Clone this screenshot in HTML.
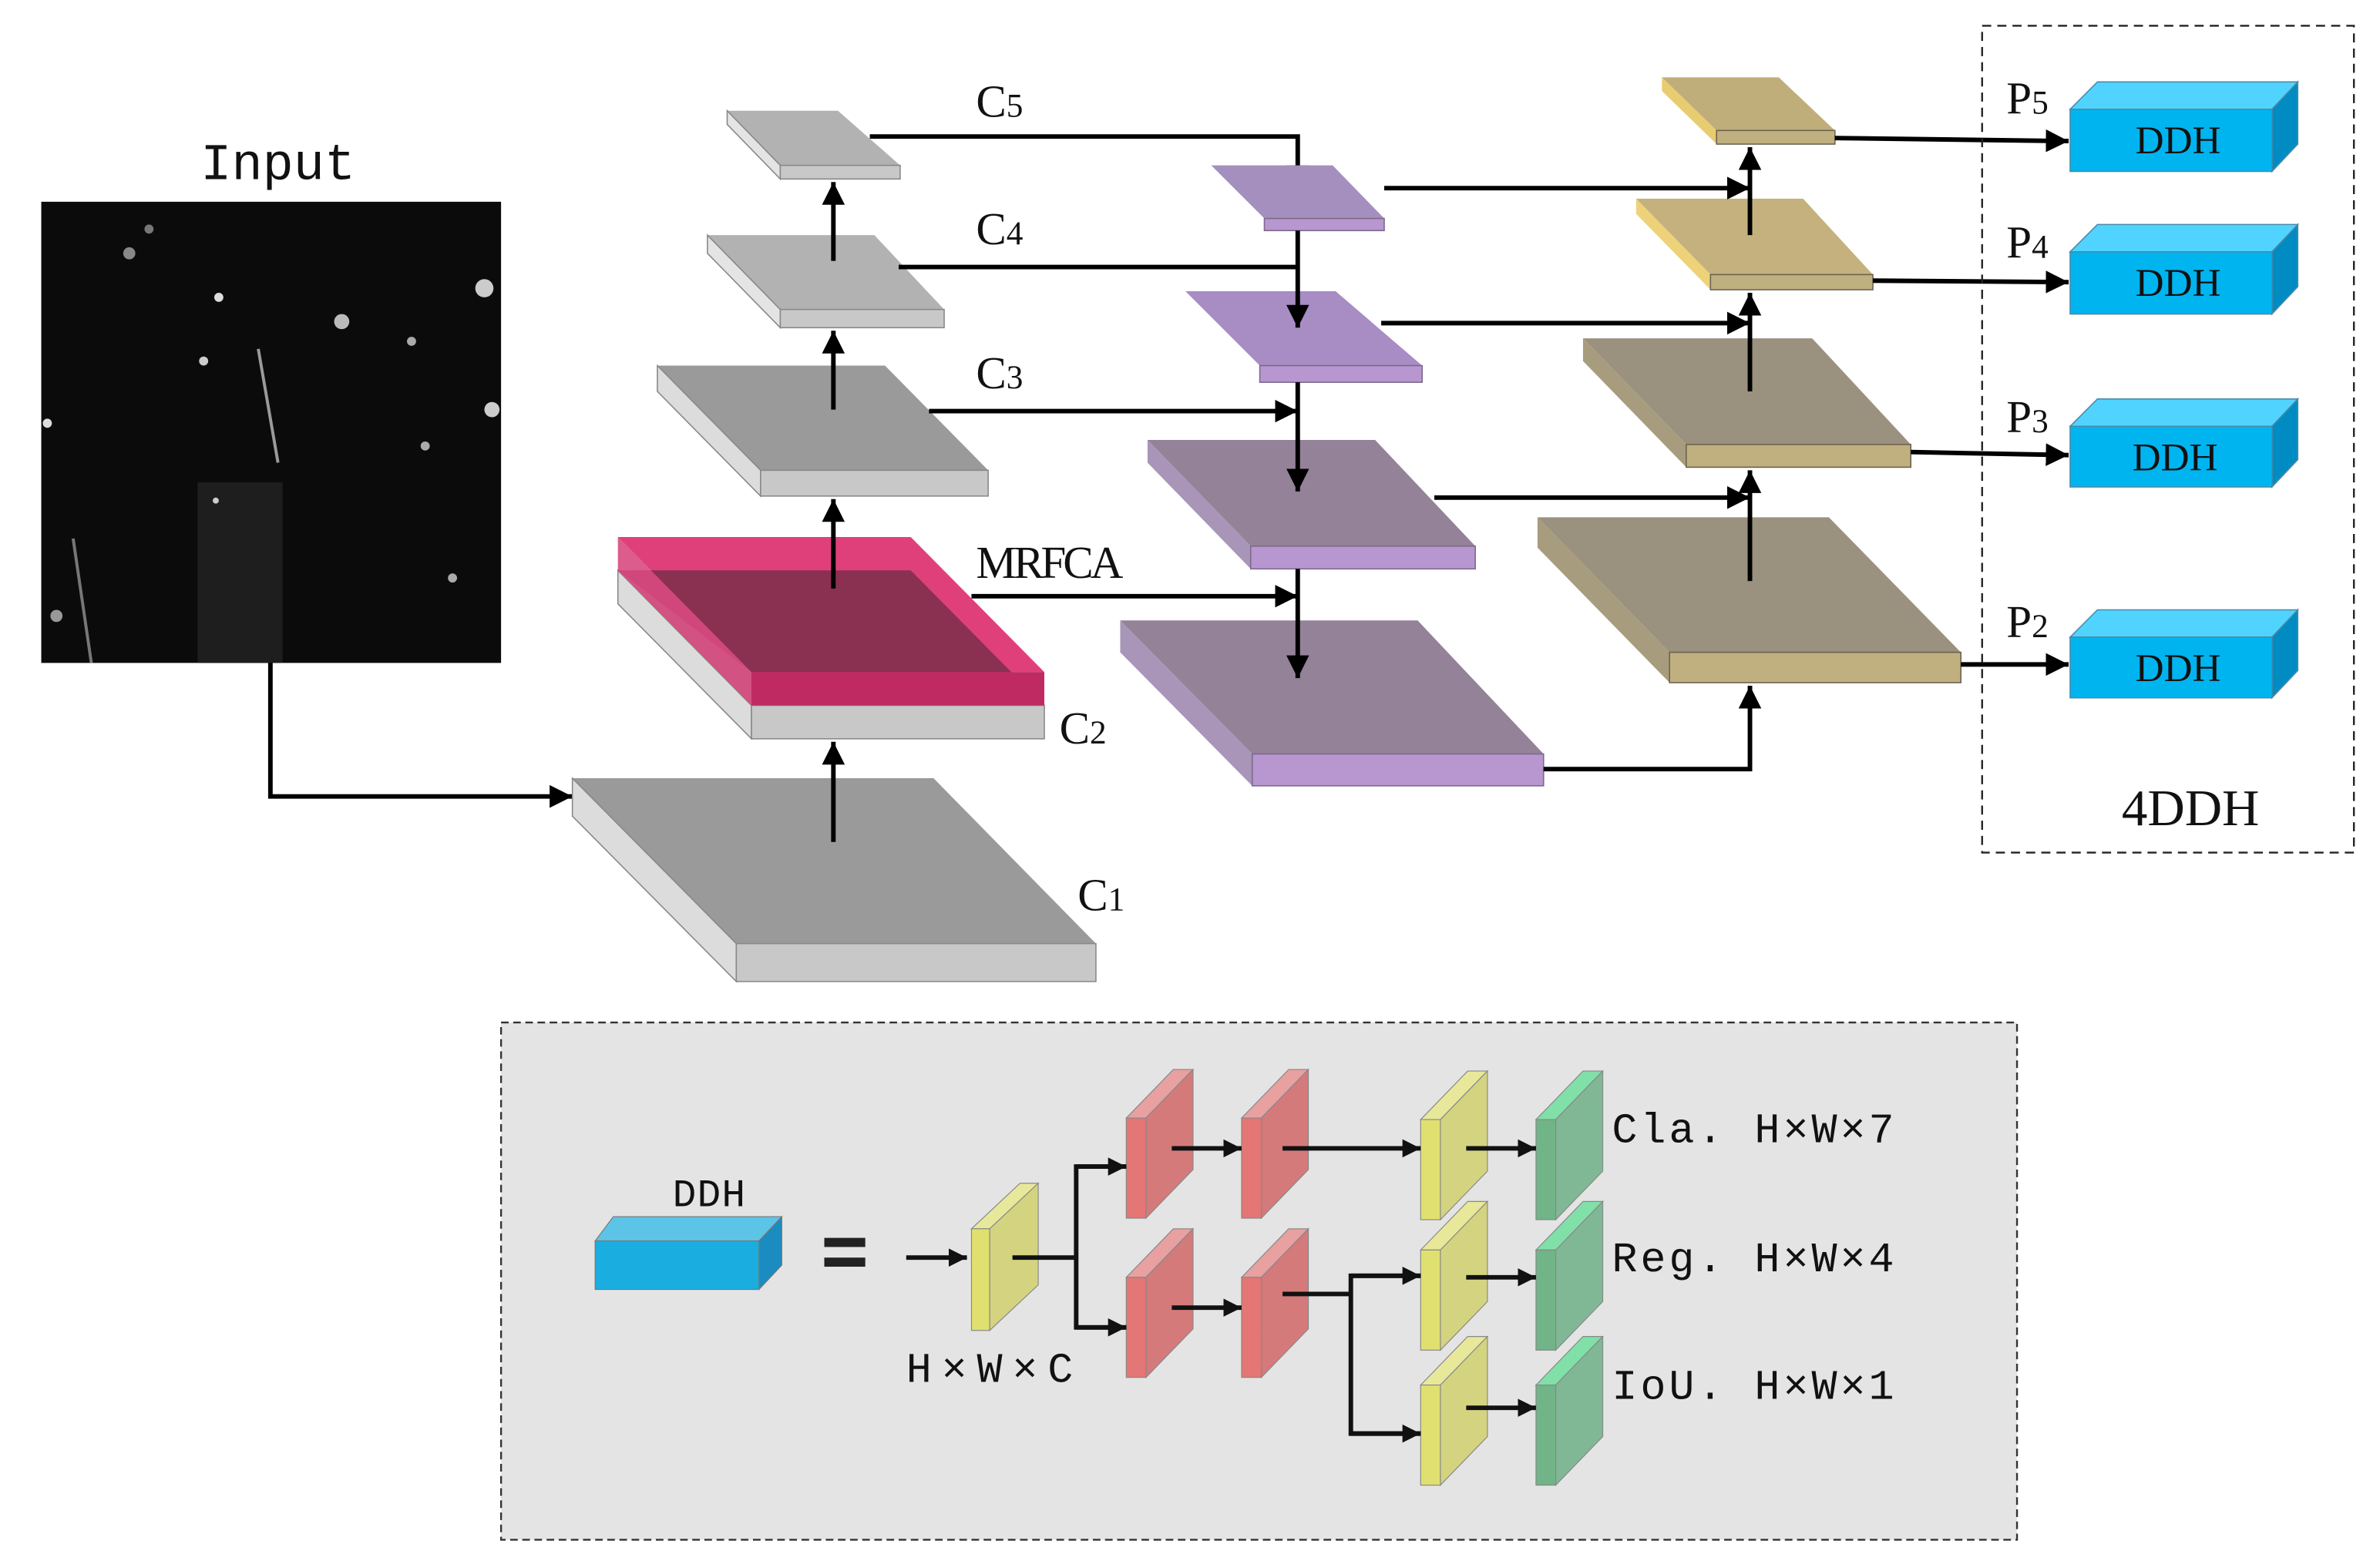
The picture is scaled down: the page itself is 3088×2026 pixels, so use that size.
<!DOCTYPE html>
<html><head><meta charset="utf-8"><style>
html,body{margin:0;padding:0;background:#fff;}
svg{display:block;}
text{font-family:"Liberation Serif","Noto Serif CJK SC",serif;fill:#111;}
.m{font-family:"Liberation Mono","Noto Sans CJK SC",monospace;}
</style></head><body>
<svg width="3088" height="2026" viewBox="0 0 1568 1029" xmlns="http://www.w3.org/2000/svg">
<defs>
<marker id="a" viewBox="0 0 10 10" refX="10" refY="5" markerWidth="5" markerHeight="5" orient="auto"><path d="M0,0 L10,5 L0,10 z" fill="#000"/></marker>
<marker id="b" viewBox="0 0 10 10" refX="10" refY="5" markerWidth="4" markerHeight="4" orient="auto"><path d="M0,0 L10,5 L0,10 z" fill="#111"/></marker>
</defs>

<!-- Input -->
<text x="132" y="118" font-size="34" class="m">Input</text>
<rect x="27" y="133" width="303" height="304" fill="#0b0b0b"/>
<rect x="130" y="318" width="56" height="119" fill="#1e1e1e"/>
<line x1="170" y1="230" x2="183" y2="305" stroke="#9a9a9a" stroke-width="2"/>
<line x1="48" y1="355" x2="60" y2="437" stroke="#777" stroke-width="2"/>
<circle cx="144" cy="196" r="3" fill="#ddd"/><circle cx="134" cy="238" r="3" fill="#ccc"/>
<circle cx="85" cy="167" r="4" fill="#888"/><circle cx="225" cy="212" r="5" fill="#bbb"/>
<circle cx="31" cy="279" r="3" fill="#ddd"/><circle cx="319" cy="190" r="6" fill="#ccc"/>
<circle cx="324" cy="270" r="5" fill="#ccc"/><circle cx="271" cy="225" r="3" fill="#aaa"/>
<circle cx="280" cy="294" r="3" fill="#aaa"/><circle cx="142" cy="330" r="2" fill="#ccc"/>
<circle cx="298" cy="381" r="3" fill="#aaa"/><circle cx="98" cy="151" r="3" fill="#777"/>
<circle cx="37" cy="406" r="4" fill="#999"/>
<polyline points="178,437 178,525 377,525" fill="none" stroke="#000" stroke-width="3" marker-end="url(#a)"/>

<!-- Backbone C1 -->
<polygon points="377,513 615,513 722,622 485,622" fill="#9a9a9a"/>
<polygon points="377,513 485,622 485,647 377,538" fill="#dcdcdc" stroke="#888" stroke-width="0.8"/>
<rect x="485" y="622" width="237" height="25" fill="#c8c8c8" stroke="#888" stroke-width="0.8"/>
<!-- C2 -->
<polygon points="407,376 600,376 688,465 495,465" fill="#9a9a9a"/>
<polygon points="407,376 495,465 495,487 407,398" fill="#dcdcdc" stroke="#888" stroke-width="0.8"/>
<rect x="495" y="465" width="193" height="22" fill="#c8c8c8" stroke="#888" stroke-width="0.8"/>
<polygon points="407,354 600,354 688,443 495,443" fill="#e0407a"/>
<polygon points="407,376 600,376 688,465 495,465 495,443" fill="#8a3152"/>
<polygon points="407,354 495,443 495,465 407,376" fill="#d84a80" opacity="0.9"/>
<rect x="495" y="443" width="193" height="22" fill="#c02a62"/>
<!-- C3 -->
<polygon points="433,241 583,241 651,310 501,310" fill="#9a9a9a"/>
<polygon points="433,241 501,310 501,327 433,258" fill="#dcdcdc" stroke="#888" stroke-width="0.8"/>
<rect x="501" y="310" width="150" height="17" fill="#c8c8c8" stroke="#888" stroke-width="0.8"/>
<!-- C4 -->
<polygon points="466,155 576,155 622,204 514,204" fill="#b2b2b2"/>
<polygon points="466,155 514,204 514,216 466,167" fill="#e4e4e4" stroke="#888" stroke-width="0.8"/>
<rect x="514" y="204" width="108" height="12" fill="#c8c8c8" stroke="#888" stroke-width="0.8"/>
<!-- C5 -->
<polygon points="479,73 552,73 593,109 514,109" fill="#b2b2b2"/>
<polygon points="479,73 514,109 514,118 479,82" fill="#e4e4e4" stroke="#888" stroke-width="0.8"/>
<rect x="514" y="109" width="79" height="9" fill="#c8c8c8" stroke="#888" stroke-width="0.8"/>

<g stroke="#000" stroke-width="3" fill="none">
<line x1="549" y1="555" x2="549" y2="489" marker-end="url(#a)"/>
<line x1="549" y1="388" x2="549" y2="329" marker-end="url(#a)"/>
<line x1="549" y1="270" x2="549" y2="218" marker-end="url(#a)"/>
<line x1="549" y1="172" x2="549" y2="120" marker-end="url(#a)"/>
<polyline points="573,90 855,90 855,124" marker-end="url(#a)"/>
<line x1="592" y1="176" x2="855" y2="176"/>
<line x1="612" y1="271" x2="855" y2="271" marker-end="url(#a)"/>
<line x1="640" y1="393" x2="855" y2="393" marker-end="url(#a)"/>
</g>

<text x="643" y="77" font-size="30">C<tspan font-size="22">5</tspan></text>
<text x="643" y="161" font-size="30">C<tspan font-size="22">4</tspan></text>
<text x="643" y="256" font-size="30">C<tspan font-size="22">3</tspan></text>
<text x="643" y="381" font-size="30" textLength="97">MRFCA</text>
<text x="698" y="490" font-size="30">C<tspan font-size="22">2</tspan></text>
<text x="710" y="600" font-size="30">C<tspan font-size="22">1</tspan></text>

<!-- Purple column -->
<polygon points="798,109 878,109 912,144 833,144" fill="#a58fbf"/>
<rect x="833" y="144" width="79" height="8" fill="#b896d0" stroke="#7a6a88" stroke-width="0.8"/>
<polygon points="781,192 880,192 937,241 830,241" fill="#a88cc4"/>
<rect x="830" y="241" width="107" height="11" fill="#b896d0" stroke="#7a6a88" stroke-width="0.8"/>
<polygon points="756,290 906,290 972,360 824,360" fill="#938298"/>
<polygon points="756,290 824,360 824,375 756,305" fill="#a895b8"/>
<rect x="824" y="360" width="148" height="15" fill="#b896d0" stroke="#7a6a88" stroke-width="0.8"/>
<polygon points="738,409 934,409 1017,497 825,497" fill="#938298"/>
<polygon points="738,409 825,497 825,518 738,430" fill="#a895b8"/>
<rect x="825" y="497" width="192" height="21" fill="#b896d0" stroke="#7a6a88" stroke-width="0.8"/>

<!-- Tan column -->
<polygon points="1095,51 1172,51 1209,86 1131,86" fill="#bfae7a"/>
<polygon points="1095,51 1131,86 1131,95 1095,60" fill="#e8cc70"/>
<rect x="1131" y="86" width="78" height="9" fill="#c0b080" stroke="#6b6250" stroke-width="0.8"/>
<polygon points="1078,131 1188,131 1234,181 1127,181" fill="#c4b17d"/>
<polygon points="1078,131 1127,181 1127,191 1078,141" fill="#eed27a"/>
<rect x="1127" y="181" width="107" height="10" fill="#c0b080" stroke="#6b6250" stroke-width="0.8"/>
<polygon points="1043,223 1194,223 1259,293 1111,293" fill="#9b917f"/>
<polygon points="1043,223 1111,293 1111,308 1043,238" fill="#a89c7e"/>
<rect x="1111" y="293" width="148" height="15" fill="#c0b080" stroke="#6b6250" stroke-width="0.8"/>
<polygon points="1013,341 1205,341 1292,430 1100,430" fill="#9b917f"/>
<polygon points="1013,341 1100,430 1100,450 1013,361" fill="#a89c7e"/>
<rect x="1100" y="430" width="192" height="20" fill="#c0b080" stroke="#6b6250" stroke-width="0.8"/>

<g stroke="#000" stroke-width="3" fill="none">
<line x1="855" y1="152" x2="855" y2="216" marker-end="url(#a)"/>
<line x1="855" y1="252" x2="855" y2="324" marker-end="url(#a)"/>
<line x1="855" y1="375" x2="855" y2="447" marker-end="url(#a)"/>
<polyline points="1017,507 1153,507 1153,452" marker-end="url(#a)"/>
<line x1="1153" y1="383" x2="1153" y2="310" marker-end="url(#a)"/>
<line x1="1153" y1="258" x2="1153" y2="193" marker-end="url(#a)"/>
<line x1="1153" y1="155" x2="1153" y2="97" marker-end="url(#a)"/>
<line x1="945" y1="328" x2="1153" y2="328" marker-end="url(#a)"/>
<line x1="910" y1="213" x2="1153" y2="213" marker-end="url(#a)"/>
<line x1="912" y1="124" x2="1153" y2="124" marker-end="url(#a)"/>
<line x1="1209" y1="91" x2="1363" y2="93" marker-end="url(#a)"/>
<line x1="1234" y1="185" x2="1363" y2="186" marker-end="url(#a)"/>
<line x1="1259" y1="298" x2="1363" y2="300" marker-end="url(#a)"/>
<line x1="1292" y1="438" x2="1363" y2="438" marker-end="url(#a)"/>
</g>

<!-- 4DDH box -->
<rect x="1306" y="17" width="245" height="545" fill="none" stroke="#222" stroke-width="1.2" stroke-dasharray="6,4"/>
<g stroke="#4a8aa8" stroke-width="0.8">
<polygon points="1364,72 1382,54 1514,54 1497,72" fill="#50d4ff"/><polygon points="1497,72 1514,54 1514,95 1497,113" fill="#008cc2"/><rect x="1364" y="72" width="133" height="41" fill="#00b4f0"/>
<polygon points="1364,166 1382,148 1514,148 1497,166" fill="#50d4ff"/><polygon points="1497,166 1514,148 1514,189 1497,207" fill="#008cc2"/><rect x="1364" y="166" width="133" height="41" fill="#00b4f0"/>
<polygon points="1364,281 1382,263 1514,263 1497,281" fill="#50d4ff"/><polygon points="1497,281 1514,263 1514,303 1497,321" fill="#008cc2"/><rect x="1364" y="281" width="133" height="40" fill="#00b4f0"/>
<polygon points="1364,420 1382,402 1514,402 1497,420" fill="#50d4ff"/><polygon points="1497,420 1514,402 1514,442 1497,460" fill="#008cc2"/><rect x="1364" y="420" width="133" height="40" fill="#00b4f0"/>
</g>
<text x="1407" y="101" font-size="26">DDH</text>
<text x="1407" y="195" font-size="26">DDH</text>
<text x="1405" y="310" font-size="26">DDH</text>
<text x="1407" y="449" font-size="26">DDH</text>
<text x="1322" y="75" font-size="30">P<tspan font-size="22">5</tspan></text>
<text x="1322" y="170" font-size="30">P<tspan font-size="22">4</tspan></text>
<text x="1322" y="285" font-size="30">P<tspan font-size="22">3</tspan></text>
<text x="1322" y="420" font-size="30">P<tspan font-size="22">2</tspan></text>
<text x="1398" y="544" font-size="34">4DDH</text>

<!-- Bottom panel -->
<rect x="330" y="674" width="999" height="341" fill="#e4e4e4" stroke="#333" stroke-width="1.2" stroke-dasharray="5,3"/>
<polygon points="392,818 404,802 515,802 500,818" fill="#5cc4e6" stroke="#777" stroke-width="0.6"/>
<polygon points="500,818 515,802 515,834 500,850" fill="#1a8cc0" stroke="#777" stroke-width="0.6"/>
<rect x="392" y="818" width="108" height="32" fill="#1aaee0" stroke="#777" stroke-width="0.6"/>
<text x="443" y="795" font-size="26" class="m" textLength="48">DDH</text>
<rect x="543" y="816" width="27" height="6" fill="#222"/><rect x="543" y="829" width="27" height="6" fill="#222"/>

<g stroke="#888" stroke-width="0.6">
<polygon points="640,810 652,810 684,780 672,780" fill="#e8e89a"/><polygon points="652,810 684,780 684,847 652,877" fill="#d4d480"/><rect x="640" y="810" width="12" height="67" fill="#e0e070"/>
<polygon points="742,737 755,737 786,705 773,705" fill="#e8a0a0"/><polygon points="755,737 786,705 786,771 755,803" fill="#d47a7a"/><rect x="742" y="737" width="13" height="66" fill="#e47676"/>
<polygon points="818,737 831,737 862,705 849,705" fill="#e8a0a0"/><polygon points="831,737 862,705 862,771 831,803" fill="#d47a7a"/><rect x="818" y="737" width="13" height="66" fill="#e47676"/>
<polygon points="742,842 755,842 786,810 773,810" fill="#e8a0a0"/><polygon points="755,842 786,810 786,876 755,908" fill="#d47a7a"/><rect x="742" y="842" width="13" height="66" fill="#e47676"/>
<polygon points="818,842 831,842 862,810 849,810" fill="#e8a0a0"/><polygon points="831,842 862,810 862,876 831,908" fill="#d47a7a"/><rect x="818" y="842" width="13" height="66" fill="#e47676"/>
<polygon points="936,738 949,738 980,706 967,706" fill="#e8e89a"/><polygon points="949,738 980,706 980,772 949,804" fill="#d4d480"/><rect x="936" y="738" width="13" height="66" fill="#e0e070"/>
<polygon points="936,824 949,824 980,792 967,792" fill="#e8e89a"/><polygon points="949,824 980,792 980,858 949,890" fill="#d4d480"/><rect x="936" y="824" width="13" height="66" fill="#e0e070"/>
<polygon points="936,913 949,913 980,881 967,881" fill="#e8e89a"/><polygon points="949,913 980,881 980,947 949,979" fill="#d4d480"/><rect x="936" y="913" width="13" height="66" fill="#e0e070"/>
<polygon points="1012,738 1025,738 1056,706 1043,706" fill="#80e0a8"/><polygon points="1025,738 1056,706 1056,772 1025,804" fill="#80b896"/><rect x="1012" y="738" width="13" height="66" fill="#70b488"/>
<polygon points="1012,824 1025,824 1056,792 1043,792" fill="#80e0a8"/><polygon points="1025,824 1056,792 1056,858 1025,890" fill="#80b896"/><rect x="1012" y="824" width="13" height="66" fill="#70b488"/>
<polygon points="1012,913 1025,913 1056,881 1043,881" fill="#80e0a8"/><polygon points="1025,913 1056,881 1056,947 1025,979" fill="#80b896"/><rect x="1012" y="913" width="13" height="66" fill="#70b488"/>
</g>

<g stroke="#111" stroke-width="3" fill="none">
<line x1="597" y1="829" x2="637" y2="829" marker-end="url(#b)"/>
<line x1="667" y1="829" x2="709" y2="829"/>
<polyline points="742,769 709,769 709,875 742,875"/>
<line x1="709" y1="769" x2="742" y2="769" marker-end="url(#b)"/>
<line x1="709" y1="875" x2="742" y2="875" marker-end="url(#b)"/>
<line x1="772" y1="757" x2="818" y2="757" marker-end="url(#b)"/>
<line x1="845" y1="757" x2="936" y2="757" marker-end="url(#b)"/>
<line x1="772" y1="862" x2="818" y2="862" marker-end="url(#b)"/>
<line x1="845" y1="853" x2="890" y2="853"/>
<polyline points="936,841 890,841 890,945 936,945"/>
<line x1="890" y1="841" x2="936" y2="841" marker-end="url(#b)"/>
<line x1="890" y1="945" x2="936" y2="945" marker-end="url(#b)"/>
<line x1="966" y1="757" x2="1012" y2="757" marker-end="url(#b)"/>
<line x1="966" y1="842" x2="1012" y2="842" marker-end="url(#b)"/>
<line x1="966" y1="928" x2="1012" y2="928" marker-end="url(#b)"/>
</g>

<text x="597" y="911" font-size="28" class="m" textLength="110">H×W×C</text>
<text x="1062" y="753" font-size="28" class="m" textLength="186">Cla. H×W×7</text>
<text x="1062" y="838" font-size="28" class="m" textLength="186">Reg. H×W×4</text>
<text x="1062" y="922" font-size="28" class="m" textLength="186">IoU. H×W×1</text>
</svg>
</body></html>
